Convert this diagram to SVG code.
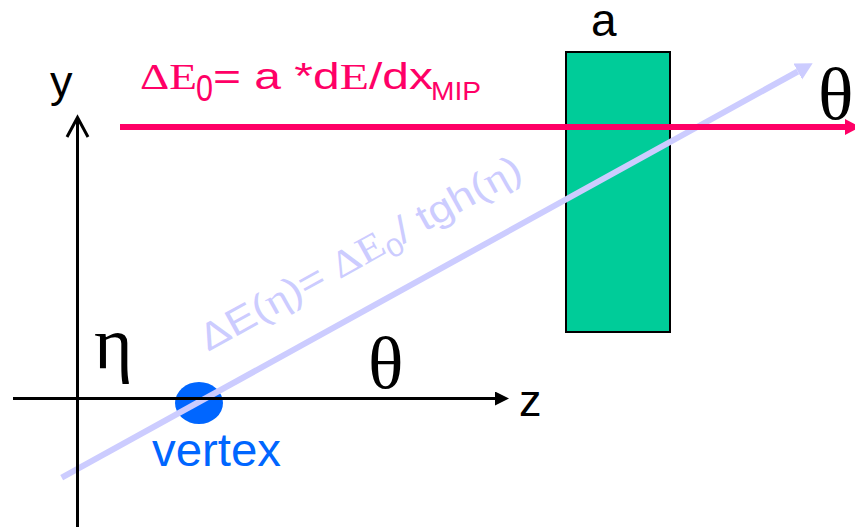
<svg xmlns="http://www.w3.org/2000/svg" width="855" height="527" viewBox="0 0 855 527">
<style>
.sans{font-family:"Liberation Sans",Arial,sans-serif}
.serif{font-family:"Liberation Serif","Times New Roman",serif}
.axis{stroke:#000;stroke-width:3;fill:none}
.greek{font-family:"Liberation Serif","Times New Roman",serif;font-size:74px;fill:#000}
</style>
<defs>
<marker id="headPink" markerUnits="userSpaceOnUse" markerWidth="16" markerHeight="17" refX="0" refY="8" orient="auto"><path d="M0,0 L15,8 L0,16 z" fill="#FF0066"/></marker>
<marker id="headBlue" markerUnits="userSpaceOnUse" markerWidth="18" markerHeight="19" refX="0" refY="9" orient="auto"><path d="M0,0 L17,9 L0,18 z" fill="#CCCCFF"/></marker>
<marker id="headBlack" markerUnits="userSpaceOnUse" markerWidth="15" markerHeight="15" refX="0" refY="7" orient="auto"><path d="M0,0 L14,7 L0,14 z" fill="#000"/></marker>
</defs>
<rect width="855" height="527" fill="#fff"/>

<g id="absorber">
<rect x="566" y="52" width="104" height="280" fill="#00CC99" stroke="#000" stroke-width="2"/>
<text class="sans" x="591" y="36" font-size="46" fill="#000">a</text>
</g>

<g id="vertex">
<ellipse cx="199" cy="403" rx="24" ry="21" fill="#0066FF"/>
<text class="sans" x="152" y="466" font-size="47" fill="#0066FF" textLength="129" lengthAdjust="spacingAndGlyphs">vertex</text>
</g>

<g id="connectors">
<line x1="61.7" y1="477.7" x2="797.8" y2="71.5" stroke="#CCCCFF" stroke-width="6" marker-end="url(#headBlue)"/>
<line class="axis" x1="13" y1="398.5" x2="495" y2="398.5" marker-end="url(#headBlack)"/>
<line class="axis" x1="77.5" y1="119" x2="77.5" y2="527"/>
<polyline class="axis" points="67,137 77.5,117.5 88,137"/>
<line x1="120" y1="127" x2="845" y2="127" stroke="#FF0066" stroke-width="6" marker-end="url(#headPink)"/>
</g>

<g id="labels">
<text class="sans" x="50" y="97" font-size="45" fill="#000">y</text>
<text class="sans" x="519" y="416" font-size="45" fill="#000">z</text>
<text class="greek" x="94" y="368">η</text>
<text class="greek" x="368" y="388">θ</text>
<text class="greek" x="818" y="119">θ</text>
</g>

<g id="formula" fill="#FF0066">
<text class="serif" x="140" y="89" font-size="36" textLength="57" lengthAdjust="spacingAndGlyphs">ΔE</text>
<text class="sans" x="196" y="101" font-size="36" textLength="17" lengthAdjust="spacingAndGlyphs">0</text>
<text class="sans" x="213" y="89" font-size="36" textLength="220" lengthAdjust="spacingAndGlyphs">= a *d<tspan class="serif">E</tspan>/dx</text>
<text class="sans" x="431" y="100" font-size="25" textLength="50" lengthAdjust="spacingAndGlyphs">MIP</text>
</g>

<g id="rotated-formula" fill="#CCCCFF" transform="translate(208,352) rotate(-29)">
<text class="sans" x="0" y="0" font-size="38" textLength="362" lengthAdjust="spacingAndGlyphs">ΔE(<tspan class="serif">η</tspan>)= <tspan class="serif">ΔE</tspan><tspan font-size="26" dy="8">0</tspan><tspan dy="-8">/ tgh(</tspan><tspan class="serif">η</tspan>)</text>
</g>
</svg>
